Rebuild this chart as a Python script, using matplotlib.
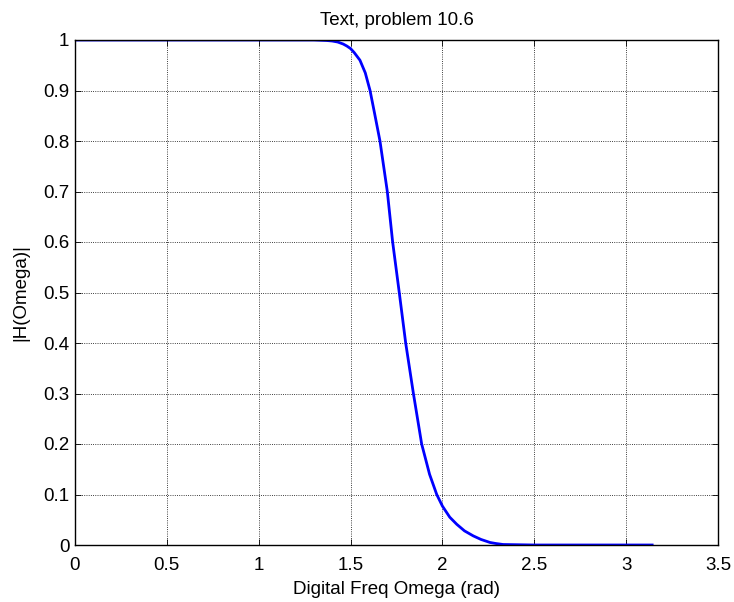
import matplotlib
matplotlib.use("Agg")
import matplotlib.pyplot as plt

omega = [0.0, 0.5, 1.0, 1.3, 1.37, 1.40, 1.43, 1.46, 1.48, 1.50, 1.52, 1.551,
         1.58, 1.606, 1.63, 1.66, 1.68, 1.70, 1.729, 1.765, 1.80, 1.842,
         1.887, 1.93, 1.969, 2.00, 2.04, 2.078, 2.12, 2.168, 2.21, 2.259,
         2.29, 2.33, 2.5, 3.1416]
mag = [1.0, 1.0, 1.0, 1.0, 0.999, 0.998, 0.996, 0.992, 0.988, 0.983, 0.975, 0.96,
       0.935, 0.90, 0.856, 0.80, 0.75, 0.70, 0.60, 0.50, 0.40, 0.30,
       0.20, 0.14, 0.10, 0.077, 0.055, 0.041, 0.028, 0.018, 0.011, 0.005,
       0.003, 0.001, 0.0, 0.0]

xticks = [0, 0.5, 1, 1.5, 2, 2.5, 3, 3.5]
yticks = [0, 0.1, 0.2, 0.3, 0.4, 0.5, 0.6, 0.7, 0.8, 0.9, 1]

plt.rcParams['font.family'] = ['Liberation Sans', 'DejaVu Sans']
FS = 13.5

fig = plt.figure(figsize=(7.34, 6.02), dpi=100)
ax = fig.add_axes([75/734, 1-545/602, (718-75)/734, (545-40)/602])
ax.plot(omega, mag, color=(0, 0, 1), linewidth=2)
ax.set_xlim(0, 3.5)
ax.set_ylim(0, 1)
ax.set_xticks(xticks)
ax.set_xticklabels([f"{t:g}" for t in xticks])
ax.set_yticks(yticks)
ax.set_yticklabels([f"{t:g}" for t in yticks])
ax.tick_params(direction='in', top=True, right=True, labelsize=FS, length=4, width=0.6)
ax.tick_params(axis='x', pad=9)
ax.tick_params(axis='y', pad=4)
ax.grid(True, color='black', linestyle=':', linewidth=0.6)
for s in ax.spines.values():
    s.set_linewidth(1.0)
ax.set_xlabel("Digital Freq Omega (rad)", fontsize=FS, labelpad=5)
ax.set_ylabel("|H(Omega)|", fontsize=FS, labelpad=10)
ax.set_title("Text, problem 10.6", fontsize=FS, pad=11)
fig.savefig("out.png", dpi=100)
